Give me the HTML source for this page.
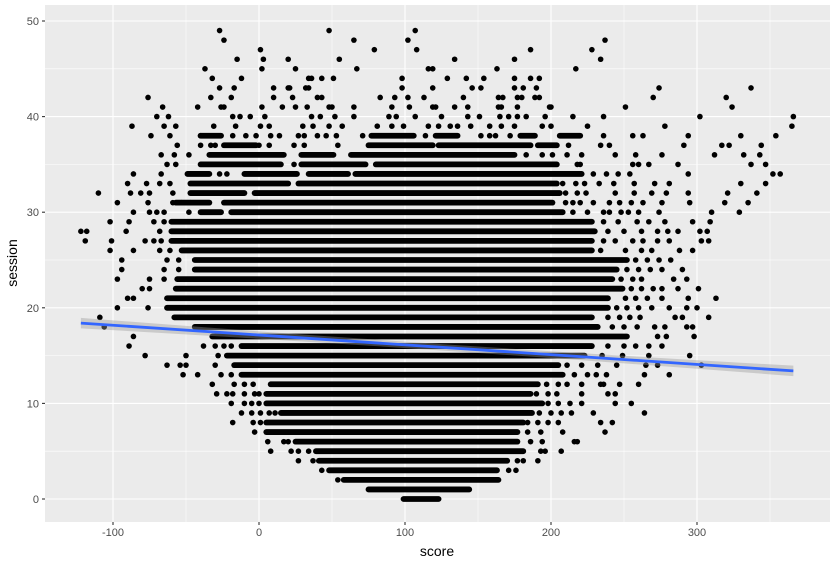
<!DOCTYPE html>
<html><head><meta charset="utf-8"><style>
html,body{margin:0;padding:0;background:#fff;}
svg{display:block;font-family:"Liberation Sans",sans-serif;}
</style></head><body>
<svg id="chart" width="836" height="563">
<rect x="45" y="5" width="785" height="517" fill="#EBEBEB"/>
<g id="grid"></g>
<g id="marks"></g>
<g id="fit"></g>
<g id="axes"></g>
<text x="437" y="556" text-anchor="middle" font-size="14" fill="#000">score</text>
<text x="17" y="263" text-anchor="middle" font-size="14" fill="#000" transform="rotate(-90 17 263)">session</text>
</svg>
<script>
const xTicks=[-100,0,100,200,300];
const xMinor=[-50,50,150,250,350];
const yTicks=[0,10,20,30,40,50];
const yMinor=[5,15,25,35,45];
// dense runs: [session, lowScore, highScore]
const runs=[[0,99,123],[1,75,144],[2,58,164],[3,48,163],[4,41,170],[5,39,181],[6,25,177],[7,5,177],[8,5,181],[9,15,187],[10,5,194],[11,5,186],[12,8,191],[13,-12,208],[14,-17,205],[15,-22,223],[16,-12,228],[17,-32,252],[18,-44,232],[19,-58,228],[20,-63,239],[21,-63,239],[22,-57,249],[23,-56,242],[24,-44,245],[25,-44,252],[26,-53,228],[27,-60,228],[28,-60,230],[29,-60,228],[30,-19,208],[30,-40,-26],[31,-24,201],[31,-57,-34],[32,-3,206],[32,-47,-10],[33,27,204],[33,-47,20],[34,66,221],[34,-10,26],[34,34,61],[34,-49,-34],[35,80,204],[35,-40,15],[35,29,73],[36,63,175],[36,-34,17],[36,29,51],[37,75,119],[37,123,186],[37,-24,-2],[37,191,204],[38,77,106],[38,121,136],[38,179,189],[38,206,220],[38,-40,-26]];
// sparse observations indexed by session
const sparse=[[],[],[54],[43,171,176],[27,37,177,181,191],[8,22,27,34,193,196,207],[6,17,20,186,194,216,218],[-3,184,193,208,237],[-18,-4,1,184,191,198,205,234,242],[-12,-5,1,7,11,192,200,207,214,229,264],[-19,-10,-5,0,198,205,213,221,244,255],[-29,-22,-18,-10,-3,0,190,198,204,221,239,244],[-32,-17,-10,-4,197,205,211,221,234,236,247,260],[-52,-42,-26,-19,216,225,231,238,264,281],[-63,-54,-50,-30,211,221,232,245,265,273,303],[-78,-50,-28,235,249,267,295],[-89,-38,-30,-24,-19,239,250,258,267,276],[-86,273,279,298],[-106,242,250,259,271,278,293,297],[-109,239,247,254,261,285,290,308],[-97,-76,245,252,260,269,281,293,300],[-90,-86,251,258,266,276,294,313],[-80,-75,255,262,270,276,287,301],[-97,-75,-65,248,256,262,284,293],[-94,-65,-55,252,260,268,276,290],[-94,-63,-55,258,266,274,282],[-102,-86,-68,-61,234,251,262,269,288,297],[-119,-101,-78,-72,-67,236,244,256,263,273,281,303,308],[-122,-118,-91,-68,239,250,262,273,280,287,302,307],[-102,-89,-72,-65,236,246,259,267,278,297,309],[-86,-75,-70,-65,-48,215,225,236,240,248,253,260,274,310,329],[-97,-76,-59,-53,-47,210,215,220,229,240,247,255,263,276,295,319,335],[-110,-88,-81,-75,-59,210,218,224,244,257,269,279,294,321,341],[-90,-77,-68,-61,208,217,223,233,243,257,271,281,330,347],[-86,-67,-27,-22,229,238,246,254,294,352,357],[-63,-57,24,218,220,256,260,267,287,337,347],[-67,-58,-48,183,194,201,211,221,244,258,276,312,332,343],[-56,-40,-33,-30,0,7,24,31,54,212,234,240,291,317,322,344],[-74,-61,-40,-18,-9,-2,8,14,27,31,40,46,53,71,114,152,158,162,172,236,256,263,294,330,354],[-87,-65,-57,-31,-16,1,7,30,37,48,57,81,91,99,116,123,131,136,145,158,166,175,194,200,225,278,365],[-70,-62,-18,-13,-6,4,36,42,52,65,89,94,107,125,143,151,165,171,177,183,196,215,236,302,366],[-66,-42,-26,-24,2,16,25,33,48,50,65,91,103,119,121,134,143,164,166,177,199,200,251,324],[-76,-33,-19,10,23,40,43,83,93,102,113,140,164,167,177,180,189,192,270,320],[-27,-17,10,20,21,32,34,98,119,146,152,175,181,190,274,337],[-32,-12,34,36,43,51,98,129,142,154,175,186,192],[-37,2,25,67,116,119,163,217],[-15,3,20,55,134,175,234],[1,79,108,186,228],[-24,65,102,237],[-27,48,107]];
const fitX=[-122,366];
const fitIntercept=17.15, fitSlope=-0.01025;
const ciHalf=[0.55,0.15,0.55];

const NS="http://www.w3.org/2000/svg";
const X=v=>259+1.46*v, Y=v=>499-9.56*v;
const L=45,R=830,T=5,B=522;
function mk(tag,attrs,parent){const e=document.createElementNS(NS,tag);for(const k in attrs)e.setAttribute(k,attrs[k]);parent.appendChild(e);return e;}
const grid=document.getElementById('grid'),marks=document.getElementById('marks'),fit=document.getElementById('fit'),axes=document.getElementById('axes');
xMinor.forEach(v=>{const l=mk('line',{x1:X(v),x2:X(v),y1:T,y2:B,stroke:'#fff','stroke-width':0.55},grid);});
yMinor.forEach(v=>{const l=mk('line',{x1:L,x2:R,y1:Y(v),y2:Y(v),stroke:'#fff','stroke-width':0.55},grid);});
xTicks.forEach(v=>{const l=mk('line',{x1:X(v),x2:X(v),y1:T,y2:B,stroke:'#fff','stroke-width':1.1},grid);
 const t=mk('line',{x1:X(v),x2:X(v),y1:B,y2:B+3,stroke:'#333','stroke-width':1.1},axes);
 const s=mk('text',{x:X(v),y:B+14,'text-anchor':'middle','font-size':11,fill:'#4D4D4D'},axes);s.textContent=v;});
yTicks.forEach(v=>{const l=mk('line',{x1:L,x2:R,y1:Y(v),y2:Y(v),stroke:'#fff','stroke-width':1.1},grid);
 const t=mk('line',{x1:L-3,x2:L,y1:Y(v),y2:Y(v),stroke:'#333','stroke-width':1.1},axes);
 const s=mk('text',{x:L-6,y:Y(v)+4,'text-anchor':'end','font-size':11,fill:'#4D4D4D'},axes);s.textContent=v;});
runs.forEach(r=>{const l=mk('line',{x1:X(r[1]),x2:X(r[2]),y1:Y(r[0]),y2:Y(r[0]),stroke:'#000','stroke-width':5.8,'stroke-linecap':'round'},marks);});
sparse.forEach((arr,s)=>arr.forEach(v=>{const c=mk('circle',{cx:X(v),cy:Y(s),r:2.8,fill:'#000'},marks);}));
const f=v=>fitIntercept+fitSlope*v;
const xm=(fitX[0]+fitX[1])/2;
const band=mk('path',{fill:'#999','fill-opacity':0.4},fit);
band.setAttribute('d','M'+X(fitX[0])+','+Y(f(fitX[0])+ciHalf[0])+' Q'+X(xm)+','+Y(f(xm)+ciHalf[1]*0.8)+' '+X(fitX[1])+','+Y(f(fitX[1])+ciHalf[2])+' L'+X(fitX[1])+','+Y(f(fitX[1])-ciHalf[2])+' Q'+X(xm)+','+Y(f(xm)-ciHalf[1]*0.8)+' '+X(fitX[0])+','+Y(f(fitX[0])-ciHalf[0])+' Z');


const ln=mk('line',{x1:X(fitX[0]),y1:Y(f(fitX[0])),x2:X(fitX[1]),y2:Y(f(fitX[1])),stroke:'#3366FF','stroke-width':2.8},fit);


</script>
</body></html>
